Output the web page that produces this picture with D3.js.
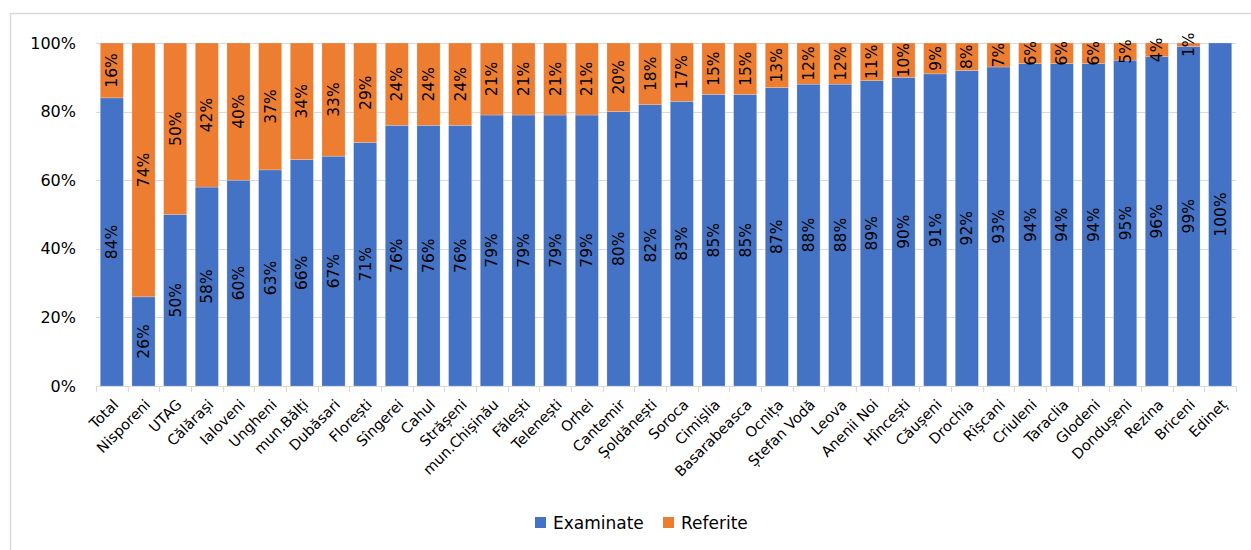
<!DOCTYPE html>
<html><head><meta charset="utf-8">
<script src="https://cdn.jsdelivr.net/npm/d3@7"></script>
<style>
body{margin:0;background:#fff;}
svg{display:block;font-family:"DejaVu Sans",sans-serif;}
</style></head>
<body>
<svg id="c" width="1251" height="550"></svg>
<script>
const categories = ["Total","Nisporeni","UTAG","Călărași","Ialoveni","Ungheni","mun.Bălți","Dubăsari","Florești","Sîngerei","Cahul","Strășeni","mun.Chișinău","Fălești","Telenești","Orhei","Cantemir","Șoldănești","Soroca","Cimișlia","Basarabeasca","Ocnița","Ștefan Vodă","Leova","Anenii Noi","Hîncești","Căușeni","Drochia","Rîșcani","Criuleni","Taraclia","Glodeni","Dondușeni","Rezina","Briceni","Edineț"];
const examinate = [84,26,50,58,60,63,66,67,71,76,76,76,79,79,79,79,80,82,83,85,85,87,88,88,89,90,91,92,93,94,94,94,95,96,99,100];
const referite  = [16,74,50,42,40,37,34,33,29,24,24,24,21,21,21,21,20,18,17,15,15,13,12,12,11,10,9,8,7,6,6,6,5,4,1,0];
const seriesNames = ["Examinate","Referite"];
const seriesColors = ["#4472C4","#ED7D31"];
const yTicks = [0,20,40,60,80,100];

(function(){
const svg = d3.select("#c");
const pLeft = 96, pRight = 1236, pTop = 43, pBottom = 386;

// frame
svg.append("rect").attr("x",10.5).attr("y",13.5).attr("width",1300).attr("height",600)
  .attr("fill","none").attr("stroke","#d9d9d9").attr("stroke-width",1.5);

const x = d3.scaleBand().domain(categories).range([pLeft,pRight]).paddingInner(0.27).paddingOuter(0.135);
const y = d3.scaleLinear().domain([0,100]).range([pBottom,pTop]);

// gridlines
svg.append("g").selectAll("line").data(yTicks.filter(t=>t>0)).join("line")
  .attr("x1",pLeft).attr("x2",pRight).attr("y1",d=>Math.round(y(d))+0.5).attr("y2",d=>Math.round(y(d))+0.5)
  .attr("stroke","#d9d9d9").attr("stroke-width",1.2);

// y axis labels
const yAxis = d3.axisLeft(y).tickValues(yTicks).tickFormat(d=>d+"%").tickSize(0).tickPadding(0);
const ya = svg.append("g").attr("transform",`translate(76,0)`).call(yAxis);
ya.select(".domain").remove();
ya.selectAll("text").attr("font-size","16px").attr("fill","#000").attr("font-family","DejaVu Sans");

// stacked data
const rows = categories.map((c,i)=>({cat:c, Examinate:examinate[i], Referite:referite[i]}));
const stack = d3.stack().keys(seriesNames)(rows);

const gBars = svg.append("g");
stack.forEach((layer,li)=>{
  gBars.append("g").selectAll("rect").data(layer).join("rect")
    .attr("x",d=>x(d.data.cat)).attr("width",x.bandwidth())
    .attr("y",d=>y(d[1])).attr("height",d=>y(d[0])-y(d[1]))
    .attr("fill",seriesColors[li]).attr("stroke","#fff").attr("stroke-opacity",0.35).attr("stroke-width",0.6);
});

// data labels
stack.forEach((layer,li)=>{
  svg.append("g").selectAll("text").data(layer.filter(d=>d[1]-d[0]>0)).join("text")
    .attr("transform",d=>`translate(${x(d.data.cat)+x.bandwidth()/2},${y((d[0]+d[1])/2)}) rotate(-90)`)
    .attr("text-anchor","middle").attr("dy","0.36em")
    .attr("font-size","15.5px").attr("fill","#000")
    .text(d=>(d[1]-d[0])+"%");
});

// x axis
const xAxis = d3.axisBottom(x).tickSize(0).tickPadding(0);
const xa = svg.append("g").attr("transform",`translate(0,${pBottom})`).call(xAxis);
xa.select(".domain").attr("stroke","#d9d9d9").attr("stroke-width",1.2).attr("d",`M${pLeft},0.5H${pRight}`);
xa.selectAll(".tick line").remove();
const bounds = categories.map(c=>x(c)-x.step()*x.paddingInner()/2).concat([pRight]);
xa.append("g").selectAll("line").data(bounds).join("line")
  .attr("x1",d=>Math.round(d)+0.5).attr("x2",d=>Math.round(d)+0.5).attr("y1",0).attr("y2",6)
  .attr("stroke","#d9d9d9").attr("stroke-width",1.2);
xa.selectAll(".tick text")
  .attr("font-size","14.5px").attr("fill","#000").attr("font-family","DejaVu Sans")
  .attr("text-anchor","end").attr("y",0).attr("dy","0.35em")
  .attr("transform","translate(4,16) rotate(-45)");

// legend
const lg = svg.append("g");
const legX = [535,663];
seriesNames.forEach((n,i)=>{
  lg.append("rect").attr("x",legX[i]).attr("y",517).attr("width",11).attr("height",11).attr("fill",seriesColors[i]);
  lg.append("text").attr("x",legX[i]+18).attr("y",529).attr("font-size","17px").attr("fill","#000").text(n);
});
})();
</script>
</body></html>
